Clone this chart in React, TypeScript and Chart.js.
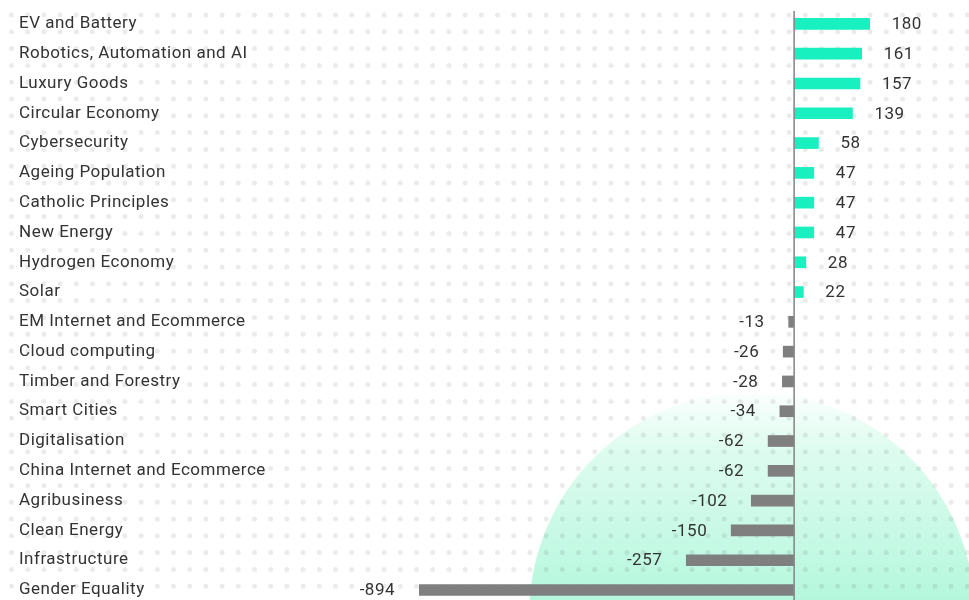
import React, { useEffect, useRef } from 'react';
import { Chart, registerables } from 'chart.js';

Chart.register(...registerables);

const categories = [
  'EV and Battery',
  'Robotics, Automation and AI',
  'Luxury Goods',
  'Circular Economy',
  'Cybersecurity',
  'Ageing Population',
  'Catholic Principles',
  'New Energy',
  'Hydrogen Economy',
  'Solar',
  'EM Internet and Ecommerce',
  'Cloud computing',
  'Timber and Forestry',
  'Smart Cities',
  'Digitalisation',
  'China Internet and Ecommerce',
  'Agribusiness',
  'Clean Energy',
  'Infrastructure',
  'Gender Equality',
];

const values = [180, 161, 157, 139, 58, 47, 47, 47, 28, 22, -13, -26, -28, -34, -62, -62, -102, -150, -257, -894];

const POS_COLOR = '#19F0C0';
const NEG_COLOR = '#7f7f7f';
const TEXT_COLOR = '#333333';
const FONT_FAMILY = 'Roboto, "Noto Sans", sans-serif';
const FONT_SIZE = 17;
const LETTER_SPACING = '0.5px';

const backgroundPlugin = {
  id: 'bgDecor',
  beforeDraw(chart: any) {
    const ctx = chart.ctx as CanvasRenderingContext2D;
    const w = chart.width;
    const h = chart.height;
    ctx.save();
    ctx.fillStyle = '#ffffff';
    ctx.fillRect(0, 0, w, h);
    // mint circle
    const cx = 752, cy = 615, r = 223;
    const g = ctx.createLinearGradient(0, cy - r, 0, 600);
    g.addColorStop(0, 'rgba(200, 250, 230, 0.05)');
    g.addColorStop(0.3, 'rgba(205, 250, 232, 0.7)');
    g.addColorStop(1, 'rgba(180, 247, 221, 1)');
    ctx.fillStyle = g;
    ctx.beginPath();
    ctx.arc(cx, cy, r, 0, Math.PI * 2);
    ctx.fill();
    // dot grid
    ctx.fillStyle = 'rgba(0, 0, 0, 0.08)';
    for (let y = 15; y < h; y += 16.8) {
      for (let x = 11.5; x < w; x += 16.2) {
        ctx.beginPath();
        ctx.arc(x, y, 2.5, 0, Math.PI * 2);
        ctx.fill();
      }
    }
    ctx.restore();
    (ctx as any).letterSpacing = LETTER_SPACING;
  },
};

const labelsPlugin = {
  id: 'valueLabels',
  afterDatasetsDraw(chart: any) {
    const ctx = chart.ctx as CanvasRenderingContext2D;
    const meta = chart.getDatasetMeta(0);
    const data = chart.data.datasets[0].data as number[];
    ctx.save();
    // zero line
    const x0 = chart.scales.x.getPixelForValue(0);
    ctx.strokeStyle = '#8a8a8a';
    ctx.lineWidth = 1.6;
    ctx.beginPath();
    ctx.moveTo(x0, 11);
    ctx.lineTo(x0, chart.height);
    ctx.stroke();
    // value labels
    (ctx as any).letterSpacing = LETTER_SPACING;
    ctx.font = `${FONT_SIZE}px ${FONT_FAMILY}`;
    ctx.fillStyle = TEXT_COLOR;
    ctx.textBaseline = 'middle';
    meta.data.forEach((el: any, i: number) => {
      const v = data[i];
      if (v >= 0) {
        ctx.textAlign = 'left';
        ctx.fillText(String(v), el.x + 22, el.y + 1);
      } else {
        ctx.textAlign = 'right';
        ctx.fillText(String(v), el.x - 24, el.y + 1);
      }
    });
    ctx.restore();
  },
};

export default function App() {
  const canvasRef = useRef<HTMLCanvasElement | null>(null);

  useEffect(() => {
    if (!canvasRef.current) return;
    const chart = new Chart(canvasRef.current, {
      type: 'bar',
      data: {
        labels: categories,
        datasets: [
          {
            data: values,
            backgroundColor: values.map((v) => (v >= 0 ? POS_COLOR : NEG_COLOR)),
            borderWidth: 0,
            barThickness: 11,
          },
        ],
      },
      options: {
        indexAxis: 'y',
        animation: false,
        responsive: true,
        maintainAspectRatio: false,
        devicePixelRatio: 1,
        layout: { padding: { left: 19, right: 49, top: 9, bottom: 4 } },
        plugins: {
          legend: { display: false },
          tooltip: { enabled: false },
        },
        scales: {
          x: {
            type: 'linear',
            min: -894,
            max: 300,
            display: false,
          },
          y: {
            type: 'category',
            grid: { display: false },
            border: { display: false },
            ticks: {
              crossAlign: 'far',
              padding: 0,
              color: TEXT_COLOR,
              font: { family: FONT_FAMILY, size: FONT_SIZE, lineHeight: 0.6 },
            },
            afterFit: (scale: any) => {
              scale.width = 400;
            },
          },
        },
      },
      plugins: [backgroundPlugin, labelsPlugin],
    });
    return () => chart.destroy();
  }, []);

  return (
    <div style={{ position: 'fixed', left: 0, top: 0, width: 969, height: 600, overflow: 'hidden' }}>
      <div style={{ position: 'relative', width: 969, height: 610 }}>
        <canvas ref={canvasRef} />
      </div>
    </div>
  );
}
